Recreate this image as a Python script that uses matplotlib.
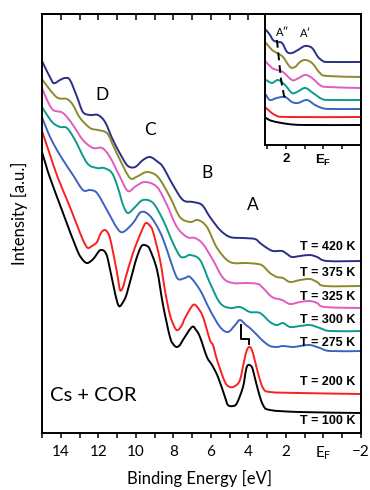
import matplotlib
matplotlib.use("Agg")
import matplotlib.pyplot as plt
import numpy as np
from matplotlib.path import Path
from matplotlib.patches import PathPatch
from matplotlib.ticker import MultipleLocator, FixedLocator, NullFormatter

plt.rcParams["font.family"] = ["Lato", "DejaVu Sans"]
plt.rcParams["mathtext.fontset"] = "custom"
plt.rcParams["mathtext.rm"] = "Lato"
plt.rcParams["mathtext.bf"] = "Liberation Sans:bold"
plt.rcParams["mathtext.default"] = "rm"

# spectra: binding energy (eV) and intensity (a.u.)
e_420 = [15.0, 14.47, 14.31, 14.04, 13.77, 13.51, 13.13, 12.82, 12.44, 12.02, 11.64, 11.22, 10.74,
         10.42, 10.04, 9.62, 9.24, 8.82, 8.55, 8.02, 7.49, 6.95, 6.47, 6.05, 5.51, 4.98, 4.29, 3.65,
         3.38, 3.01, 2.69, 2.21, 1.94, 1.68, 1.25, 0.72, 0.34, -0.19, -2.0]
i_420 = [372, 352, 350, 353, 355, 353, 336, 321, 318, 318, 311, 293, 276, 267, 266, 273, 276, 271,
         266, 248, 233, 231, 228, 216, 203, 196, 195, 194, 190, 185, 182, 182, 179, 176, 177, 178,
         176, 172, 172]

e_375 = [15.0, 14.57, 14.15, 13.67, 13.35, 12.97, 12.44, 12.02, 11.54, 11.22, 10.84, 10.31, 9.88,
         9.40, 8.82, 8.18, 7.65, 7.11, 6.69, 6.21, 5.67, 4.98, 4.08, 3.49, 3.22, 2.85, 2.48, 2.16,
         1.78, 1.25, 0.72, 0.34, -0.08, -2.0]
i_375 = [354, 343, 335, 334, 328, 315, 305, 303, 300, 288, 273, 255, 257, 261, 256, 236, 216, 211,
         213, 206, 185, 171, 170, 169, 167, 160, 156, 155, 151, 153, 154, 151, 147, 147]

e_325 = [15.0, 14.73, 14.41, 13.88, 13.35, 12.82, 12.28, 11.80, 11.38, 10.84, 10.42, 9.99, 9.51,
         8.87, 8.34, 7.81, 7.27, 6.85, 6.42, 5.89, 5.35, 4.82, 4.08, 3.49, 3.22, 2.74, 2.21, 1.78,
         1.25, 0.72, 0.34, -0.08, -2.0]
i_325 = [345, 333, 323, 320, 308, 293, 285, 285, 276, 256, 242, 247, 251, 246, 228, 206, 196, 195,
         189, 173, 155, 150, 150, 149, 145, 136, 133, 129, 131, 132, 130, 126, 125]

e_300 = [15.0, 14.73, 14.41, 14.04, 13.67, 13.24, 12.60, 12.07, 11.70, 11.27, 10.95, 10.68, 10.42,
         10.04, 9.62, 9.08, 8.55, 8.02, 7.65, 7.38, 7.11, 6.58, 6.05, 5.51, 4.98, 4.45, 3.92, 3.38,
         2.85, 2.48, 2.16, 1.78, 1.25, 0.72, 0.19, -0.35, -2.0]
i_300 = [326, 318, 310, 306, 305, 293, 270, 265, 265, 260, 245, 228, 220, 226, 233, 230, 213, 190,
         177, 176, 178, 173, 150, 130, 125, 126, 121, 120, 111, 108, 110, 106, 107, 108, 105, 102, 102]

e_275 = [15.0, 14.73, 14.41, 13.88, 13.35, 12.82, 12.44, 12.07, 11.54, 11.00, 10.68, 10.15, 9.72,
         9.24, 8.71, 8.34, 8.02, 7.75, 7.38, 7.11, 6.58, 6.05, 5.51, 5.09, 4.71, 4.45, 4.13, 3.92,
         3.54, 3.22, 2.85, 2.48, 2.16, 1.62, 1.25, 0.72, 0.19, -0.35, -2.0]
i_275 = [316, 303, 290, 273, 258, 243, 243, 240, 223, 205, 201, 210, 221, 217, 201, 183, 165, 154,
         155, 156, 143, 123, 106, 101, 108, 113, 108, 105, 98, 92, 87, 86, 87, 86, 87, 88, 85, 82, 82]

e_200 = [15.0, 14.57, 14.15, 13.51, 12.97, 12.71, 12.55, 12.34, 12.07, 11.86, 11.64, 11.43, 11.27,
         11.00, 10.84, 10.68, 10.58, 10.15, 9.67, 9.46, 9.24, 9.08, 8.71, 8.45, 8.18, 7.91, 7.75,
         7.54, 7.38, 6.95, 6.69, 6.42, 6.05, 5.89, 5.67, 5.25, 4.98, 4.71, 4.45, 4.24, 4.08, 3.92,
         3.76, 3.49, 3.22, 2.85, 1.25, -2.0]
i_200 = [302, 278, 255, 226, 200, 189, 185, 187, 191, 200, 203, 198, 186, 160, 143, 146, 153, 180,
         203, 210, 207, 201, 173, 143, 118, 105, 103, 108, 115, 128, 125, 116, 93, 88, 73, 51, 46,
         47, 53, 71, 83, 86, 80, 60, 45, 41, 40, 39]

e_100 = [15.0, 14.79, 14.57, 13.88, 13.13, 12.82, 12.60, 12.39, 12.18, 11.96, 11.80, 11.64, 11.48,
         11.11, 10.90, 10.68, 10.47, 10.04, 9.78, 9.62, 9.40, 9.24, 8.87, 8.55, 8.18, 7.97, 7.81,
         7.65, 7.49, 7.01, 6.79, 6.58, 6.21, 5.94, 5.62, 5.25, 5.09, 4.82, 4.61, 4.29, 4.13, 4.02,
         3.86, 3.76, 3.49, 3.22, 2.85, 1.25, -2.0]
i_100 = [281, 268, 255, 220, 183, 173, 170, 172, 176, 182, 183, 181, 173, 140, 127, 131, 140, 170,
         184, 188, 187, 183, 163, 128, 96, 88, 86, 88, 93, 106, 103, 96, 76, 68, 56, 36, 28, 27,
         30, 46, 63, 68, 67, 63, 43, 28, 23, 21, 20]

# inset: valence region near E_F
ie_420 = [3.06, 2.85, 2.69, 2.48, 2.21, 1.94, 1.68, 1.36, 0.98, 0.61, 0.29, 0.03, -0.25, -2.0]
ii_420 = [115, 110, 105, 103, 102, 93, 92, 95, 99, 97, 88, 84, 83, 83]
ie_375 = [3.06, 2.74, 2.48, 2.16, 1.78, 1.52, 1.25, 0.98, 0.61, 0.19, -0.19, -2.0]
ii_375 = [102, 95, 92, 88, 78, 78, 83, 85, 82, 72, 69, 68]
ie_325 = [3.06, 2.74, 2.48, 2.16, 1.68, 1.41, 0.98, 0.61, 0.19, -0.19, -2.0]
ii_325 = [83, 77, 75, 73, 65, 66, 70, 67, 60, 58, 57]
ie_300 = [3.06, 2.74, 2.42, 2.05, 1.68, 1.41, 0.98, 0.56, 0.08, -0.35, -2.0]
ii_300 = [65, 62, 65, 60, 52, 53, 57, 52, 46, 45, 45]
ie_275 = [3.06, 2.85, 2.48, 2.05, 1.68, 1.36, 0.88, 0.45, 0.08, -0.35, -2.0]
ii_275 = [50, 45, 47, 48, 43, 42, 45, 40, 37, 36, 36]
ie_200 = [3.06, 2.58, 1.89, -2.0]
ii_200 = [37, 30, 28, 28]
ie_100 = [3.06, 2.74, 1.89, 0.98, -2.0]
ii_100 = [27, 24, 21, 20, 20]

# A'' shift marker in inset, A shift bracket in main panel
dash_e = [2.48, 2.37, 2.26, 2.10, 1.94]
dash_i = [105, 85, 65, 49, 46]
step_e = [4.41, 4.41, 3.96, 3.96]
step_i = [108, 94, 94, 89]

temps = ["T = 420 K", "T = 375 K", "T = 325 K", "T = 300 K", "T = 275 K", "T = 200 K", "T = 100 K"]
label_i = [186, 160, 136, 113, 90, 51, 12]
colors = ["#2a2f86", "#8c8a2c", "#df5cc0", "#0b9a8d", "#3b63c2", "#fb2020", "#000000"]

main_curves = [(e_420, i_420), (e_375, i_375), (e_325, i_325), (e_300, i_300),
               (e_275, i_275), (e_200, i_200), (e_100, i_100)]
inset_curves = [(ie_420, ii_420), (ie_375, ii_375), (ie_325, ii_325), (ie_300, ii_300),
                (ie_275, ii_275), (ie_200, ii_200), (ie_100, ii_100)]


def smooth_line(ax, e, i, color, lw=1.4):
    # draw the read points as a smooth bezier path through every point
    p = np.column_stack([e, i]).astype(float)
    verts = [p[0]]
    codes = [Path.MOVETO]
    n = len(p)
    for k in range(n - 1):
        p0 = p[k - 1] if k > 0 else p[k]
        p3 = p[k + 2] if k + 2 < n else p[k + 1]
        c1 = p[k] + (p[k + 1] - p0) / 6.0
        c2 = p[k + 1] - (p3 - p[k]) / 6.0
        verts += [c1, c2, p[k + 1]]
        codes += [Path.CURVE4] * 3
    patch = PathPatch(Path(verts, codes), facecolor="none", edgecolor=color, lw=lw,
                      joinstyle="round", capstyle="round")
    ax.add_patch(patch)


fig = plt.figure(figsize=(3.7, 4.9), dpi=100)
ax = fig.add_axes([0.1135, 0.1163, 0.8622, 0.8551])

for (e, i), c in zip(main_curves, colors):
    smooth_line(ax, e, i, c)
ax.plot(step_e, step_i, color="black", lw=1.4)

for txt, y in zip(temps, label_i):
    ax.text(0.982, y, txt, transform=ax.get_yaxis_transform(), ha="right", va="center",
            fontsize=9, fontweight="bold", family="Liberation Sans")

for txt, e, y in [("D", 11.80, 338), ("C", 9.24, 303), ("B", 6.21, 260), ("A", 3.76, 228)]:
    ax.text(e, y, txt, ha="center", va="center", fontsize=12.5)
ax.text(12.28, 38, "Cs + COR", ha="center", va="center", fontsize=14.5)

ax.set_xlim(15, -2)
ax.set_ylim(0, 419)
ax.set_yticks([])
ax.xaxis.set_major_locator(FixedLocator([14, 12, 10, 8, 6, 4, 2, 0, -2]))
ax.xaxis.set_minor_locator(MultipleLocator(1))
ax.set_xticklabels(["14", "12", "10", "8", "6", "4", "2", "$E_F$", "\u22122"], fontsize=11)
ax.tick_params(axis="x", which="both", direction="out", length=3.5, width=1.1, pad=5)
top = ax.secondary_xaxis("top")
top.xaxis.set_major_locator(MultipleLocator(1))
top.xaxis.set_major_formatter(NullFormatter())
top.tick_params(direction="in", length=4, width=1.1)
for s in ax.spines.values():
    s.set_linewidth(1.4)
top.spines["top"].set_linewidth(1.4)
ax.set_xlabel("Binding Energy [eV]", fontsize=12)
ax.xaxis.set_label_coords(0.495, -0.088)
ax.set_ylabel("Intensity [a.u.]", fontsize=12)
ax.yaxis.set_label_coords(-0.045, 0.524)

ins = fig.add_axes([0.7162, 0.7041, 0.2595, 0.2674])
ins.set_zorder(5)
for (e, i), c in zip(inset_curves, colors):
    smooth_line(ins, e, i, c)
ins.plot(dash_e, dash_i, color="black", lw=1.4, ls=(0, (4, 2.5)))
ins.text(2.15, 112, "A\u2033", ha="center", va="center", fontsize=8)
ins.text(0.95, 111, "A\u2032", ha="center", va="center", fontsize=8)
ins.set_xlim(3.116, -2)
ins.set_ylim(0, 131)
ins.set_yticks([])
ins.xaxis.set_major_locator(FixedLocator([2, 0]))
ins.xaxis.set_minor_locator(FixedLocator([3, 1, -1]))
ins.set_xticklabels(["2", r"$\mathbf{E_F}$"], fontsize=9.5, fontweight="bold", family="Liberation Sans")
ins.tick_params(axis="x", which="both", direction="out", length=3, width=1.1, pad=3)
for s in ins.spines.values():
    s.set_linewidth(1.4)

fig.savefig("out.png", dpi=100)
